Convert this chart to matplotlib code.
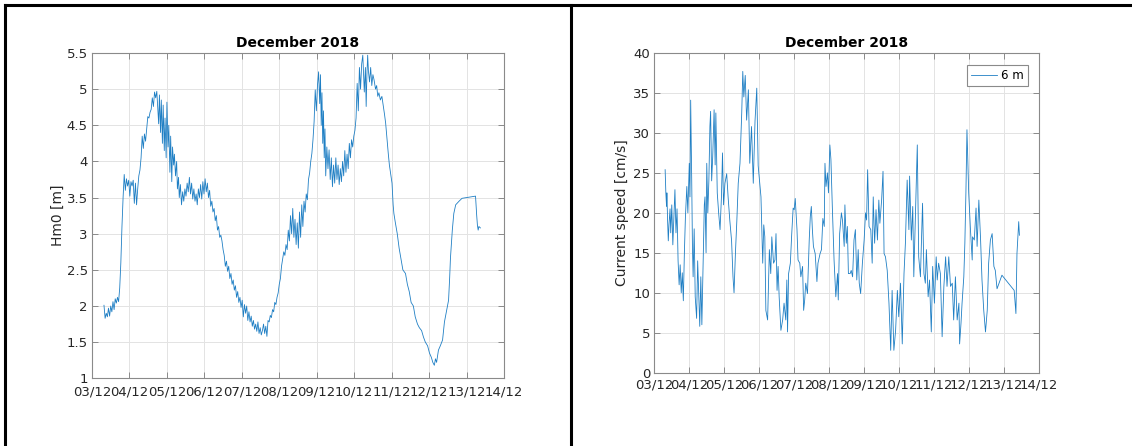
import matplotlib
matplotlib.use("Agg")
import matplotlib.pyplot as plt
from matplotlib.lines import Line2D

# Hm0 (left panel) as (day of December, Hm0 in m)
hm0_obs = [
    (3.32, 2.01), (3.35, 1.83), (3.38, 1.90), (3.41, 1.85), (3.44, 1.97), (3.47, 1.86),
    (3.50, 2.00), (3.53, 1.92), (3.56, 2.06), (3.59, 1.95), (3.62, 2.10), (3.65, 2.04),
    (3.68, 2.12), (3.71, 2.06), (3.74, 2.25), (3.77, 2.60), (3.80, 3.10), (3.83, 3.50),
    (3.86, 3.82), (3.89, 3.60), (3.92, 3.76), (3.95, 3.66), (3.98, 3.74), (4.01, 3.52),
    (4.04, 3.72), (4.07, 3.66), (4.10, 3.74), (4.13, 3.42), (4.16, 3.70), (4.19, 3.40),
    (4.22, 3.62), (4.25, 3.80), (4.28, 3.88), (4.31, 4.05), (4.34, 4.35), (4.37, 4.18),
    (4.40, 4.38), (4.43, 4.28), (4.46, 4.45), (4.49, 4.62), (4.52, 4.60), (4.55, 4.68),
    (4.58, 4.72), (4.61, 4.88), (4.64, 4.76), (4.67, 4.96), (4.70, 4.88), (4.73, 4.97),
    (4.76, 4.70), (4.78, 4.52), (4.80, 4.92), (4.83, 4.40), (4.85, 4.85), (4.88, 4.25),
    (4.90, 4.78), (4.93, 4.15), (4.95, 4.60), (4.98, 4.05), (5.00, 4.82), (5.03, 4.20),
    (5.05, 4.50), (5.08, 3.85), (5.10, 4.35), (5.13, 3.72), (5.15, 4.20), (5.18, 3.95),
    (5.20, 4.10), (5.23, 3.80), (5.26, 4.00), (5.28, 3.62), (5.31, 3.78), (5.33, 3.50),
    (5.36, 3.68), (5.39, 3.40), (5.42, 3.58), (5.45, 3.45), (5.48, 3.62), (5.51, 3.52),
    (5.54, 3.70), (5.57, 3.58), (5.60, 3.78), (5.63, 3.55), (5.66, 3.70), (5.69, 3.48),
    (5.72, 3.62), (5.75, 3.45), (5.78, 3.55), (5.81, 3.40), (5.84, 3.62), (5.87, 3.50),
    (5.90, 3.68), (5.93, 3.48), (5.96, 3.72), (5.99, 3.55), (6.02, 3.76), (6.05, 3.58),
    (6.08, 3.70), (6.11, 3.50), (6.14, 3.60), (6.17, 3.38), (6.20, 3.45), (6.23, 3.30),
    (6.26, 3.35), (6.29, 3.18), (6.32, 3.25), (6.35, 3.05), (6.38, 3.10), (6.41, 2.95),
    (6.44, 2.98), (6.47, 2.90), (6.50, 2.78), (6.53, 2.70), (6.56, 2.55), (6.59, 2.62),
    (6.62, 2.48), (6.65, 2.55), (6.68, 2.38), (6.71, 2.45), (6.74, 2.30), (6.77, 2.36),
    (6.80, 2.22), (6.83, 2.28), (6.86, 2.12), (6.89, 2.20), (6.92, 2.05), (6.95, 2.12),
    (6.98, 1.98), (7.01, 2.08), (7.04, 1.85), (7.07, 2.02), (7.10, 1.90), (7.13, 2.00),
    (7.16, 1.80), (7.19, 1.92), (7.22, 1.78), (7.25, 1.86), (7.28, 1.72), (7.31, 1.80),
    (7.34, 1.68), (7.37, 1.75), (7.40, 1.65), (7.43, 1.78), (7.46, 1.62), (7.49, 1.70),
    (7.52, 1.60), (7.55, 1.66), (7.58, 1.75), (7.61, 1.62), (7.64, 1.72), (7.67, 1.58),
    (7.70, 1.80), (7.73, 1.78), (7.76, 1.87), (7.79, 1.84), (7.82, 1.95), (7.85, 1.92),
    (7.88, 2.05), (7.91, 2.02), (7.94, 2.12), (7.97, 2.18), (8.00, 2.30), (8.03, 2.38),
    (8.06, 2.55), (8.09, 2.65), (8.12, 2.75), (8.15, 2.70), (8.18, 2.85), (8.21, 2.78),
    (8.24, 3.05), (8.27, 2.90), (8.30, 3.25), (8.33, 3.00), (8.36, 3.35), (8.39, 2.95),
    (8.42, 3.20), (8.45, 2.85), (8.48, 3.15), (8.51, 2.80), (8.54, 3.30), (8.57, 2.95),
    (8.60, 3.40), (8.63, 3.10), (8.66, 3.45), (8.69, 3.30), (8.72, 3.55), (8.75, 3.47),
    (8.78, 3.75), (8.81, 3.84), (8.84, 4.00), (8.87, 4.11), (8.90, 4.30), (8.93, 4.55),
    (8.96, 4.99), (8.99, 4.70), (9.02, 5.05), (9.05, 5.24), (9.08, 4.80), (9.10, 5.20),
    (9.12, 4.50), (9.14, 4.95), (9.16, 4.25), (9.18, 4.70), (9.20, 4.05), (9.22, 4.45),
    (9.24, 3.80), (9.27, 4.20), (9.30, 3.90), (9.33, 4.16), (9.36, 3.75), (9.39, 4.05),
    (9.42, 3.65), (9.45, 3.95), (9.48, 3.70), (9.51, 4.05), (9.54, 3.75), (9.57, 3.95),
    (9.60, 3.68), (9.63, 3.90), (9.66, 3.72), (9.69, 4.00), (9.72, 3.80), (9.75, 4.15),
    (9.78, 3.85), (9.81, 4.10), (9.84, 3.90), (9.87, 4.25), (9.90, 4.05), (9.93, 4.30),
    (9.96, 4.20), (9.99, 4.35), (10.02, 4.43), (10.05, 4.60), (10.08, 5.08), (10.11, 4.70),
    (10.14, 5.30), (10.17, 5.00), (10.20, 5.35), (10.23, 5.47), (10.25, 5.20), (10.27, 4.96),
    (10.30, 5.30), (10.32, 4.76), (10.34, 5.20), (10.36, 5.47), (10.38, 5.25), (10.41, 5.10),
    (10.44, 5.30), (10.47, 5.05), (10.50, 5.20), (10.53, 5.13), (10.57, 5.00), (10.60, 5.05),
    (10.63, 4.90), (10.66, 4.95), (10.70, 4.85), (10.74, 4.90), (10.78, 4.76), (10.81, 4.65),
    (10.84, 4.53), (10.87, 4.35), (10.91, 4.11), (10.94, 3.95), (10.97, 3.84), (11.01, 3.70),
    (11.04, 3.40), (11.06, 3.28), (11.10, 3.15), (11.15, 3.00), (11.20, 2.80), (11.25, 2.65),
    (11.30, 2.50), (11.37, 2.45), (11.42, 2.30), (11.47, 2.20), (11.52, 2.05), (11.58, 2.00),
    (11.63, 1.85), (11.69, 1.75), (11.74, 1.70), (11.80, 1.66), (11.85, 1.57), (11.90, 1.50),
    (11.96, 1.45), (12.01, 1.35), (12.06, 1.29), (12.10, 1.22), (12.14, 1.18), (12.17, 1.27),
    (12.20, 1.22), (12.25, 1.39), (12.30, 1.45), (12.36, 1.53), (12.41, 1.78), (12.47, 1.94),
    (12.52, 2.08), (12.55, 2.40), (12.57, 2.66), (12.62, 3.05), (12.66, 3.28), (12.71, 3.40),
    (12.80, 3.45), (12.88, 3.49), (13.24, 3.52), (13.27, 3.26), (13.29, 3.12), (13.31, 3.05),
    (13.33, 3.10), (13.37, 3.08),
]

# Current speed at 6 m (right panel) as (day of December, speed in cm/s)
cur_obs = [
    (3.31, 25.4), (3.33, 22.5), (3.35, 20.8), (3.36, 22.5), (3.38, 19.1), (3.40, 16.5),
    (3.42, 18.5), (3.45, 20.5), (3.47, 17.5), (3.50, 21.0), (3.53, 16.0), (3.56, 19.5),
    (3.59, 22.9), (3.62, 17.5), (3.65, 20.5), (3.68, 14.0), (3.71, 11.0), (3.74, 13.5),
    (3.77, 10.0), (3.80, 12.5), (3.83, 9.0), (3.86, 15.0), (3.89, 19.5), (3.93, 23.3),
    (3.96, 20.0), (4.00, 26.2), (4.02, 22.0), (4.04, 34.1), (4.07, 24.0), (4.09, 16.0),
    (4.11, 12.0), (4.14, 18.0), (4.17, 9.5), (4.21, 6.8), (4.24, 14.0), (4.27, 10.0),
    (4.30, 5.8), (4.33, 12.0), (4.36, 6.0), (4.41, 17.0), (4.43, 21.0), (4.45, 22.0),
    (4.48, 15.0), (4.50, 26.2), (4.53, 20.0), (4.56, 24.0), (4.59, 30.8), (4.61, 32.7),
    (4.64, 24.0), (4.67, 27.0), (4.71, 32.9), (4.74, 26.0), (4.76, 32.5), (4.80, 22.5),
    (4.84, 20.0), (4.88, 17.9), (4.92, 22.0), (4.95, 27.5), (4.98, 21.0), (5.02, 23.7),
    (5.07, 24.9), (5.11, 22.0), (5.16, 19.0), (5.21, 16.5), (5.25, 12.0), (5.28, 10.0),
    (5.32, 15.0), (5.36, 19.0), (5.40, 23.7), (5.45, 26.2), (5.50, 32.5), (5.53, 37.7),
    (5.56, 34.5), (5.60, 37.2), (5.64, 31.6), (5.69, 35.4), (5.73, 26.2), (5.78, 30.8),
    (5.83, 23.7), (5.88, 31.5), (5.93, 35.6), (5.97, 25.9), (6.05, 22.0), (6.10, 13.7),
    (6.13, 18.5), (6.16, 17.0), (6.19, 7.8), (6.24, 6.6), (6.29, 15.4), (6.33, 12.4),
    (6.36, 17.0), (6.41, 13.7), (6.45, 14.1), (6.48, 17.4), (6.51, 10.3), (6.54, 13.3),
    (6.57, 9.5), (6.62, 5.3), (6.67, 6.6), (6.71, 8.7), (6.76, 6.6), (6.79, 11.6),
    (6.81, 5.1), (6.84, 12.4), (6.89, 13.7), (6.93, 17.4), (6.97, 20.6), (7.00, 20.4),
    (7.03, 21.8), (7.08, 17.9), (7.11, 14.1), (7.16, 13.7), (7.19, 12.0), (7.24, 13.3),
    (7.27, 7.8), (7.30, 9.1), (7.33, 11.2), (7.38, 9.9), (7.43, 16.6), (7.46, 19.5),
    (7.49, 20.8), (7.52, 17.9), (7.55, 15.8), (7.60, 14.9), (7.65, 11.4), (7.68, 13.7),
    (7.74, 14.9), (7.78, 15.4), (7.82, 19.3), (7.86, 18.3), (7.88, 26.2), (7.91, 23.3),
    (7.95, 25.0), (7.98, 22.5), (8.02, 28.5), (8.05, 26.7), (8.09, 20.8), (8.14, 14.1),
    (8.19, 9.5), (8.24, 12.4), (8.26, 9.1), (8.30, 17.4), (8.35, 20.0), (8.38, 19.1),
    (8.43, 15.8), (8.45, 21.0), (8.49, 16.2), (8.52, 18.3), (8.55, 12.4), (8.60, 12.4),
    (8.63, 12.8), (8.67, 12.0), (8.71, 16.6), (8.75, 17.9), (8.79, 11.6), (8.83, 15.4),
    (8.86, 11.2), (8.90, 9.9), (8.95, 13.7), (9.00, 16.6), (9.04, 20.0), (9.07, 19.1),
    (9.10, 25.4), (9.14, 18.3), (9.19, 17.9), (9.23, 13.7), (9.26, 22.0), (9.30, 16.2),
    (9.34, 20.4), (9.38, 16.6), (9.42, 21.6), (9.45, 18.7), (9.50, 21.6), (9.54, 25.2),
    (9.57, 14.9), (9.61, 14.5), (9.66, 12.8), (9.71, 8.7), (9.76, 2.8), (9.80, 10.3),
    (9.85, 2.8), (9.90, 5.3), (9.95, 10.3), (9.99, 7.0), (10.04, 11.2), (10.09, 3.6),
    (10.14, 12.4), (10.18, 16.2), (10.23, 24.1), (10.28, 17.9), (10.30, 24.6), (10.35, 16.6),
    (10.39, 20.8), (10.42, 12.0), (10.47, 20.0), (10.52, 28.5), (10.56, 14.5), (10.61, 12.0),
    (10.67, 21.2), (10.71, 12.4), (10.75, 11.2), (10.78, 15.4), (10.83, 9.5), (10.87, 11.6),
    (10.92, 5.1), (10.96, 13.3), (11.01, 8.7), (11.06, 14.5), (11.09, 11.6), (11.13, 13.7),
    (11.18, 12.4), (11.23, 4.5), (11.28, 10.8), (11.33, 14.5), (11.37, 10.8), (11.42, 14.5),
    (11.47, 10.8), (11.52, 11.2), (11.56, 6.6), (11.61, 12.0), (11.66, 6.6), (11.71, 8.7),
    (11.73, 3.6), (11.77, 6.2), (11.80, 8.7), (11.85, 12.0), (11.88, 16.2), (11.91, 22.5),
    (11.94, 30.4), (11.99, 22.5), (12.04, 17.9), (12.09, 14.1), (12.10, 17.0), (12.15, 16.6),
    (12.20, 20.6), (12.23, 15.8), (12.28, 21.6), (12.33, 16.6), (12.37, 11.6), (12.42, 7.8),
    (12.47, 5.1), (12.52, 7.8), (12.56, 13.7), (12.61, 16.6), (12.66, 17.4), (12.71, 13.3),
    (12.75, 12.8), (12.80, 10.5), (12.94, 12.2), (13.29, 10.3), (13.34, 7.4), (13.37, 14.9),
    (13.42, 18.9), (13.44, 17.2),
]

hm0_day = [d for d, _ in hm0_obs]
hm0_val = [v for _, v in hm0_obs]
cur_day = [d for d, _ in cur_obs]
cur_val = [v for _, v in cur_obs]

day_ticks = list(range(3, 15))
day_labels = ["03/12", "04/12", "05/12", "06/12", "07/12", "08/12",
              "09/12", "10/12", "11/12", "12/12", "13/12", "14/12"]
hm0_ticks = [1, 1.5, 2, 2.5, 3, 3.5, 4, 4.5, 5, 5.5]
hm0_labels = ["1", "1.5", "2", "2.5", "3", "3.5", "4", "4.5", "5", "5.5"]
cur_ticks = [0, 5, 10, 15, 20, 25, 30, 35, 40]

LINE = "#1f7fc4"
AXIS = "#8a8a8a"
GRID = "#e3e3e3"
TEXT = "#262626"

W, H = 1132, 446
fig = plt.figure(figsize=(W / 100, H / 100), dpi=100)
fig.patch.set_facecolor("white")


def frac_rect(x0, y0, x1, y1):
    return [x0 / W, 1 - y1 / H, (x1 - x0) / W, (y1 - y0) / H]


def style(ax, xpad):
    ax.grid(True, color=GRID, linewidth=0.7)
    ax.set_axisbelow(True)
    for s in ax.spines.values():
        s.set_color(AXIS)
        s.set_linewidth(0.8)
    ax.tick_params(direction="in", length=4, width=0.7, color=AXIS,
                   labelcolor=TEXT, labelsize=9.5, top=True, right=True, pad=3)
    ax.tick_params(axis="x", pad=xpad)
    ax.set_xticks(day_ticks)
    ax.set_xticklabels(day_labels)
    ax.set_xlim(3, 14)
    ax.set_title("December 2018", fontsize=10, fontweight="bold", color="black", pad=4)


ax1 = fig.add_axes(frac_rect(92, 53, 504, 378.3))
ax1.plot(hm0_day, hm0_val, color=LINE, linewidth=0.6)
style(ax1, 5.5)
ax1.set_ylim(1, 5.5)
ax1.set_yticks(hm0_ticks)
ax1.set_yticklabels(hm0_labels)
ax1.set_ylabel("Hm0 [m]", fontsize=10, color=TEXT, labelpad=1)

ax2 = fig.add_axes(frac_rect(654.3, 53, 1039, 372.7))
ax2.plot(cur_day, cur_val, color=LINE, linewidth=0.6, label="6 m")
style(ax2, 4.5)
ax2.set_ylim(0, 40)
ax2.set_yticks(cur_ticks)
ax2.set_ylabel("Current speed [cm/s]", fontsize=10, color=TEXT, labelpad=3)
leg = ax2.legend(loc="upper right", bbox_to_anchor=(0.971, 0.9625), borderaxespad=0,
                 fontsize=8.5, fancybox=False, edgecolor=AXIS, handlelength=2.2,
                 handletextpad=0.3, borderpad=0.35, framealpha=1)
leg.get_frame().set_linewidth(0.8)

# page frame lines
lw = 2.2
fig.add_artist(Line2D([5 / W, 1], [1 - 5 / H, 1 - 5 / H], color="black", linewidth=lw))
fig.add_artist(Line2D([5 / W, 5 / W], [0, 1 - 5 / H], color="black", linewidth=lw))
fig.add_artist(Line2D([571 / W, 571 / W], [0, 1 - 5 / H], color="black", linewidth=lw))

fig.savefig("out.png", dpi=100, facecolor="white")
